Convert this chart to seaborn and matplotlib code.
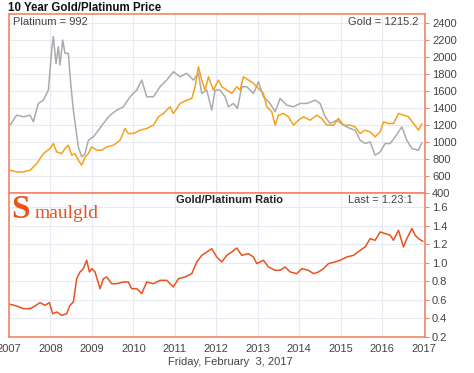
import numpy as np
import pandas as pd
import matplotlib
matplotlib.use("Agg")
import matplotlib.pyplot as plt
import seaborn as sns

# Data (x in zoomed px -> converted to decimal years)
plat_x = [30, 50, 70, 90, 100, 115, 130, 145, 155, 160, 168, 175, 180, 188, 195, 205, 212, 220,
          228, 235, 245, 255, 265, 280, 295, 310, 330, 350, 370, 390, 410, 425, 440, 460, 480,
          500, 520, 540, 560, 580, 595, 605, 620, 635, 645, 660, 675, 685, 700, 712, 725, 740,
          760, 775, 790, 810, 825, 840, 860, 880, 900, 920, 945, 960, 975, 990, 1010, 1030,
          1050, 1065, 1080, 1095, 1110, 1125, 1140, 1155, 1170, 1185, 1205, 1220, 1235, 1255, 1265]
plat_price = [1199, 1317, 1298, 1317, 1240, 1455, 1494, 1613, 2085, 2243, 1928, 2124, 1908, 2203,
              2046, 2046, 1691, 1376, 1140, 943, 825, 864, 1022, 1061, 1140, 1219, 1317, 1376,
              1416, 1534, 1613, 1731, 1534, 1534, 1652, 1731, 1829, 1770, 1810, 1731, 1810, 1573,
              1613, 1376, 1613, 1613, 1534, 1416, 1455, 1396, 1652, 1652, 1573, 1711, 1534, 1455,
              1357, 1514, 1435, 1416, 1455, 1455, 1494, 1455, 1298, 1219, 1258, 1199, 1160, 1140,
              1022, 983, 1002, 845, 884, 983, 983, 1061, 1179, 1022, 924, 904, 992]

gold_x = [30, 50, 70, 90, 110, 130, 150, 160, 170, 185, 195, 205, 215, 225, 235, 245, 255, 265,
          275, 290, 305, 320, 340, 360, 375, 385, 400, 420, 440, 460, 475, 490, 510, 520, 540,
          560, 575, 585, 595, 605, 615, 625, 640, 655, 665, 680, 695, 710, 720, 730, 745, 760,
          775, 790, 800, 815, 825, 835, 850, 865, 880, 895, 910, 930, 950, 965, 980, 1000, 1015,
          1030, 1050, 1065, 1080, 1095, 1110, 1125, 1140, 1150, 1165, 1180, 1195, 1210, 1225,
          1240, 1255, 1265]
gold_price = [668, 648, 648, 668, 746, 864, 924, 983, 884, 864, 924, 963, 845, 864, 786, 727, 825,
              864, 943, 904, 904, 943, 963, 1022, 1160, 1101, 1101, 1140, 1160, 1199, 1298, 1337,
              1416, 1337, 1455, 1494, 1514, 1652, 1888, 1731, 1613, 1770, 1613, 1731, 1652, 1613,
              1573, 1652, 1613, 1770, 1731, 1691, 1632, 1573, 1416, 1357, 1199, 1317, 1337, 1298,
              1199, 1258, 1298, 1258, 1317, 1278, 1199, 1199, 1278, 1199, 1199, 1179, 1101, 1140,
              1120, 1061, 1120, 1238, 1219, 1219, 1337, 1317, 1298, 1219, 1140, 1215]

ratio_x = [30, 50, 70, 90, 105, 120, 135, 148, 158, 170, 185, 200, 210, 220, 230, 240, 250, 260,
           268, 275, 285, 300, 310, 320, 335, 350, 370, 385, 395, 410, 425, 440, 460, 480, 500,
           520, 535, 555, 575, 590, 605, 620, 635, 650, 665, 680, 695, 710, 725, 745, 760, 770,
           790, 805, 825, 840, 855, 870, 890, 905, 925, 940, 955, 970, 985, 1005, 1020, 1040,
           1060, 1080, 1095, 1110, 1125, 1140, 1155, 1170, 1180, 1195, 1210, 1220, 1235, 1245,
           1255, 1268]
ratio_val = [0.552, 0.534, 0.505, 0.505, 0.534, 0.570, 0.541, 0.570, 0.451, 0.469, 0.433, 0.451,
             0.541, 0.577, 0.828, 0.900, 0.936, 1.026, 0.900, 0.936, 0.900, 0.720, 0.828, 0.846,
             0.774, 0.774, 0.792, 0.792, 0.720, 0.720, 0.667, 0.792, 0.774, 0.810, 0.810, 0.738,
             0.828, 0.846, 0.882, 1.008, 1.079, 1.115, 1.151, 1.061, 1.008, 1.079, 1.115, 1.158,
             1.079, 1.097, 1.061, 0.990, 1.026, 0.954, 0.918, 0.918, 0.954, 0.900, 0.882, 0.936,
             0.918, 0.882, 0.900, 0.936, 0.990, 1.008, 1.026, 1.061, 1.079, 1.133, 1.169, 1.259,
             1.241, 1.331, 1.313, 1.295, 1.241, 1.349, 1.169, 1.259, 1.367, 1.295, 1.259, 1.23]

year_ticks = list(range(2007, 2018))
price_ticks = [400, 600, 800, 1000, 1200, 1400, 1600, 1800, 2000, 2200, 2400]
ratio_ticks = [0.2, 0.4, 0.6, 0.8, 1.0, 1.2, 1.4, 1.6]


def to_year(px):
    return [2007 + (p - 27) / 124.3 for p in px]


plat = pd.DataFrame({"year": to_year(plat_x), "price": plat_price})
gold = pd.DataFrame({"year": to_year(gold_x), "price": gold_price})
ratio = pd.DataFrame({"year": to_year(ratio_x), "ratio": ratio_val})

sns.set_style("white")
plt.rcParams["font.family"] = ["Liberation Sans", "DejaVu Sans"]

frame_col = "#F3866A"
grid_col = "#E6EAF2"
txt_col = "#444444"
logo_col = "#E8531E"

fig = plt.figure(figsize=(4.74, 3.73), dpi=100)
ax1 = fig.add_axes([0.019, 0.4826, 0.878, 0.48])
ax2 = fig.add_axes([0.019, 0.0965, 0.878, 0.3861])

sns.lineplot(data=plat, x="year", y="price", ax=ax1, color="#ABABAB", lw=1.1)
sns.lineplot(data=gold, x="year", y="price", ax=ax1, color="#F4A11B", lw=1.1)
sns.lineplot(data=ratio, x="year", y="ratio", ax=ax2, color="#E8531E", lw=1.1)

xmax = 2007 + (1275 - 27) / 124.3
for ax in (ax1, ax2):
    ax.set_xlim(2007, xmax)
    ax.set_xlabel("")
    ax.set_ylabel("")
    ax.yaxis.tick_right()
    ax.set_xticks(year_ticks)
    ax.grid(True, color=grid_col, lw=0.8)
    for s in ax.spines.values():
        s.set_color(frame_col)
        s.set_linewidth(1.2)
    ax.tick_params(axis="y", colors=frame_col, length=3, labelcolor=txt_col, labelsize=8, pad=2)
    ax.tick_params(axis="x", colors=frame_col, length=3, labelcolor=txt_col, labelsize=8, pad=2)

ax1.set_ylim(400, 2510)
ax1.set_yticks(price_ticks)
ax1.set_xticklabels([])
ax1.tick_params(axis="x", length=0)

ax2.set_ylim(0.2, 1.75)
ax2.set_yticks(ratio_ticks)
ax2.set_yticklabels(["%.1f" % t for t in ratio_ticks])
ax2.set_xticklabels([str(y) for y in year_ticks])

ax1.text(0.01, 0.985, "Platinum = 992", transform=ax1.transAxes, ha="left", va="top",
         fontsize=8, color=txt_col)
ax1.text(0.985, 0.985, "Gold = 1215.2", transform=ax1.transAxes, ha="right", va="top",
         fontsize=8, color=txt_col)
ax2.text(0.53, 0.985, "Gold/Platinum Ratio", transform=ax2.transAxes, ha="center", va="top",
         fontsize=8, fontweight="bold", color="#222222")
ax2.text(0.97, 0.985, "Last = 1.23:1", transform=ax2.transAxes, ha="right", va="top",
         fontsize=8, color=txt_col)

fig.text(0.017, 0.995, "10 Year Gold/Platinum Price", ha="left", va="top",
         fontsize=8.3, fontweight="bold", color="#111111")
fig.text(0.485, 0.015, "Friday, February  3, 2017", ha="center", va="bottom",
         fontsize=8, color=txt_col)

# logo
fig.text(0.024, 0.398, "S", fontsize=24, fontweight="bold", family="Liberation Serif",
         color=logo_col, ha="left", va="bottom")
fig.text(0.072, 0.405, "maulgld", fontsize=14, family="Liberation Serif",
         color=logo_col, ha="left", va="bottom")

fig.savefig("out.png", dpi=100)
